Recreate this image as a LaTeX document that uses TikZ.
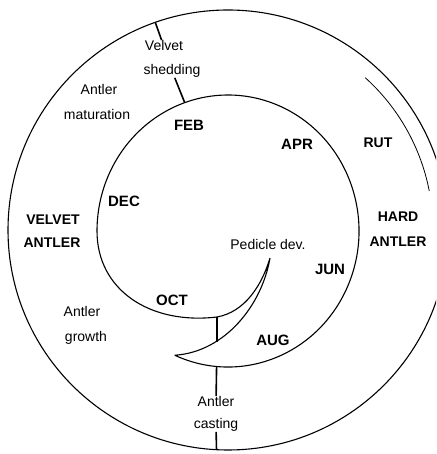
\documentclass[tikz,border=0pt]{standalone}
\usepackage{fontspec}
\setmainfont{Liberation Sans}
\usetikzlibrary{calc}
\tikzset{monthnode/.style={font=\fontsize{15}{18}\selectfont\bfseries,inner sep=1pt}}
\tikzset{textnode/.style={font=\fontsize{14}{16}\selectfont,inner sep=2pt,text height=1.5ex,text depth=.25ex}}
\tikzset{phasenode/.style={textnode,font=\fontsize{14}{16}\selectfont\bfseries}}
\tikzset{cycleline/.style={line width=1.1pt}}
\tikzset{eventline/.style={line width=1.6pt}}

\begin{document}
\begin{tikzpicture}[x=1pt,y=1pt]
    \useasboundingbox (0,0) rectangle (436,454);
    \clip (0,0) rectangle (436,454);
    \coordinate (C) at (228,224);
    \coordinate (O) at (228,223);
    % outer ring and rut
    \draw[cycleline] (C) circle[radius=220];
    \draw[line width=.8pt] ([shift={(48:205)}]C) arc[start angle=48,end angle=11,radius=205];
    % inner cycle with the horn
    \coordinate (tipA) at ([shift={(246:131 and 136)}]O);
    \coordinate (sp) at (217,137);
    \coordinate (tipB) at (270,196);
    \draw[cycleline] (tipA) arc[start angle=246,end angle=540,x radius=131,y radius=136]
        .. controls (97,164) and (150,129) .. (sp)
        .. controls (245,142) and (262,169) .. (tipB)
        .. controls (262,149) and (225,102) .. (tipA) coordinate[pos=0.7] (hb);
    \draw[eventline] (sp) -- (sp |- hb);
    % velvet shedding
    \coordinate (vsO) at ([shift={(109.3:220)}]C);
    \coordinate (vsI) at ([shift={(109.3:131 and 136)}]O);
    \node[textnode] (vel) at (164,407) {Velvet};
    \node[textnode] (shd) at (172,383) {shedding};
    \draw[eventline] (vsO) -- (vel);
    \draw[eventline] (shd) -- (vsI);
    % antler casting
    \coordinate (bot) at ([shift={(265:131 and 136)}]O);
    \coordinate (cast) at ([shift={(267:220)}]C);
    \node[textnode] (cas1) at (216,51) {Antler};
    \node[textnode] (cas2) at (216,29) {casting};
    \draw[eventline] (bot) -- (cas1);
    \draw[eventline] (cas2) -- (cast);
    % months
    \node[monthnode] (feb) at (189,329) {FEB};
    \node[monthnode] (apr) at (297,310) {APR};
    \node[monthnode] (dec) at (124,253) {DEC};
    \node[monthnode] (jun) at (330,185) {JUN};
    \node[monthnode] (oct) at (172,154) {OCT};
    \node[monthnode] (aug) at (273,114) {AUG};
    % phases
    \node[textnode] (mat1) at (99,363) {Antler};
    \node[textnode] (mat2) at (97,338) {maturation};
    \node[phasenode] (rut) at (378,310) {RUT};
    \node[phasenode] (va1) at (53,233) {VELVET};
    \node[phasenode] (va2) at (52,210) {ANTLER};
    \node[phasenode] (ha1) at (398,236) {HARD};
    \node[phasenode] (ha2) at (398,211) {ANTLER};
    \node[textnode] (ped) at (268,208) {Pedicle dev.};
    \node[textnode] (gro1) at (82,141) {Antler};
    \node[textnode] (gro2) at (86,116) {growth};
\end{tikzpicture}
\end{document}
